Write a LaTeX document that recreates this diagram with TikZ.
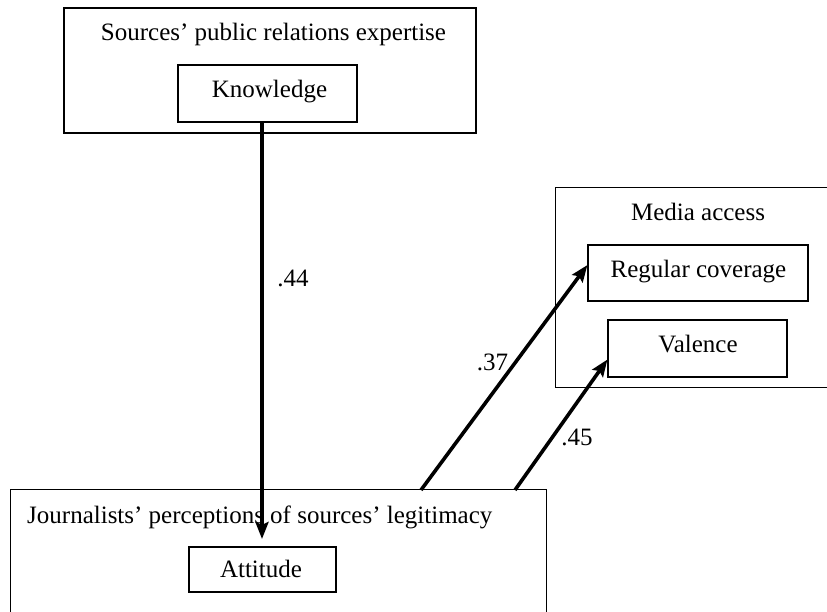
\documentclass[tikz,border=0pt]{standalone}
\usepackage{fontspec}
\setmainfont{Liberation Serif}
\usetikzlibrary{arrows.meta}
\begin{document}
\begin{tikzpicture}[x=1pt,y=-1pt,
  box/.style={draw, line width=1.1pt, inner sep=0pt},
  lbl/.style={anchor=base, inner sep=0pt, font=\fontsize{25}{29}\selectfont},
  conn/.style={line width=3.6pt, -{Stealth[length=17pt,width=13pt,inset=3pt]}}]
\useasboundingbox (0,0) rectangle (827,611);
% outer boxes
\node[box, minimum width=412pt, minimum height=125pt] (src) at (270,70.5) {};
\node[inner sep=0pt, minimum width=276pt, minimum height=199pt] (media) at (694,287.5) {};
\draw[line width=1.1pt] (media.north east) -- (media.north west) -- (media.south west) -- (media.south east);
\node[inner sep=0pt, minimum width=535pt, minimum height=125pt] (jour) at (278.5,552.5) {};
\draw[line width=1.1pt] (jour.south west) -- (jour.north west) -- (jour.north east) -- (jour.south east);
% inner boxes
\node[box, minimum width=179pt, minimum height=57pt] (know) at (267.5,93.5) {};
\node[box, minimum width=220pt, minimum height=56pt] (reg) at (698,273) {};
\node[box, minimum width=179pt, minimum height=57pt] (val) at (697.5,348.5) {};
\node[box, minimum width=147pt, minimum height=45pt] (att) at (262.5,569.5) {};
% texts
\node[lbl] (tsrc) at (273.5,40) {Sources’ public relations expertise};
\node[lbl] (tknow) at (269.5,97) {Knowledge};
\node[lbl] (tmedia) at (698,220) {Media access};
\node[lbl] (treg) at (698.5,277) {Regular coverage};
\node[lbl] (tval) at (698,352) {Valence};
\node[lbl, anchor=base west] (tjour) at (27,523) {Journalists’ perceptions of sources’ legitimacy};
\node[lbl] (tatt) at (261,577) {Attitude};
% connectors
\coordinate (s1) at (421,490);
\coordinate (s2) at (515,490);
\coordinate (e0) at (262,539);
\draw[conn] (know.south -| e0) -- (e0);
\draw[conn] (s1) -- ([yshift=8pt]reg.west);
\draw[conn] (s2) -- ([yshift=-11pt]val.west);
% coefficients
\node[lbl] (c44) at (293,286) {.44};
\node[lbl] (c37) at (492.5,370) {.37};
\node[lbl] (c45) at (577,445) {.45};
\end{tikzpicture}
\end{document}
